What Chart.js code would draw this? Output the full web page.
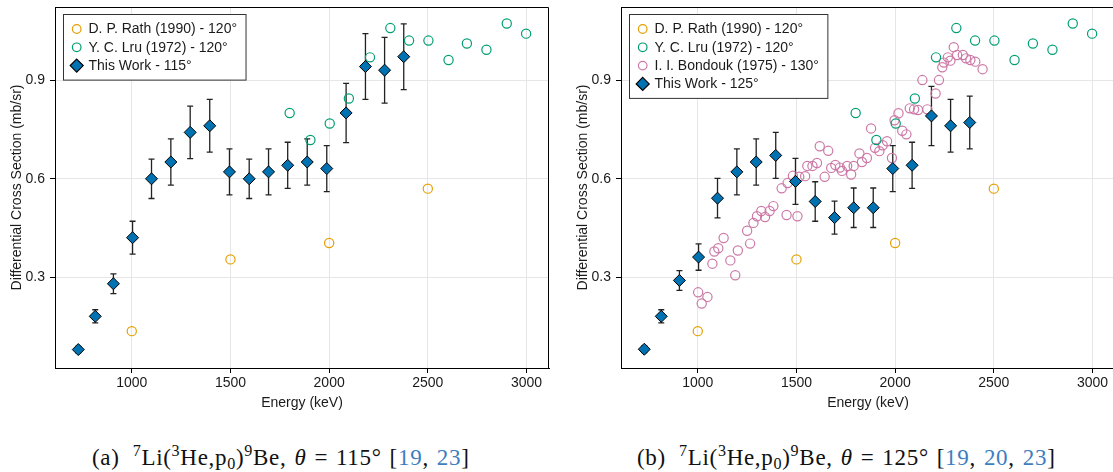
<!DOCTYPE html>
<html>
<head>
<meta charset="utf-8">
<script src="https://cdn.jsdelivr.net/npm/chart.js@4.4.1/dist/chart.umd.min.js"></script>
<style>
  html, body { margin: 0; padding: 0; background: #fff; overflow: hidden; }
  #wrap { position: relative; width: 1113px; height: 472px; overflow: hidden; }
  .plot { position: absolute; top: 0; width: 556px; height: 412px; }
  #plotA { left: 0; }
  #plotB { left: 566px; }
  .cap {
    position: absolute; top: 445px; white-space: nowrap;
    font-family: "Liberation Serif", "Times New Roman", serif;
    font-size: 23px; line-height: 26px; color: #111;
    word-spacing: 1.5px; letter-spacing: 0.7px;
  }
  .cap sup, .cap sub { font-size: 70%; line-height: 0; position: relative; vertical-align: baseline; }
  .cap sup { top: -0.55em; }
  .cap sub { top: 0.25em; }
  .cap .tag { margin-right: 13px; }
  .cap .ref { color: #3d7ebf; }
</style>
</head>
<body>
<div id="wrap">
  <div class="plot" id="plotA"><canvas id="chartA"></canvas></div>
  <div class="plot" id="plotB"><canvas id="chartB"></canvas></div>
  <div class="cap" style="left:92px"><span class="tag">(a)</span><sup>7</sup>Li(<sup>3</sup>He,p<sub>0</sub>)<sup>9</sup>Be, <i>θ</i> = 115° [<span class="ref">19</span>, <span class="ref">23</span>]</div>
  <div class="cap" style="left:637px"><span class="tag">(b)</span><sup>7</sup>Li(<sup>3</sup>He,p<sub>0</sub>)<sup>9</sup>Be, <i>θ</i> = 125° [<span class="ref">19</span>, <span class="ref">20</span>, <span class="ref">23</span>]</div>
</div>
<script>
// ---- data (energy in keV, cross section in mb/sr) ----
const xTicks = [1000, 1500, 2000, 2500, 3000];
const yTicks = [0.3, 0.6, 0.9];

const rathEnergy = [1000, 1500, 2000, 2500];
const rathXs = [0.137, 0.355, 0.405, 0.570];

const lruEnergy = [1800, 1905, 2003, 2100, 2207, 2310, 2405, 2503, 2605, 2698, 2797, 2900, 2998];
const lruXs = [0.800, 0.718, 0.768, 0.844, 0.969, 1.058, 1.020, 1.020, 0.961, 1.011, 0.992, 1.072, 1.041];

const bondoukEnergy = [1002, 1020, 1049, 1074, 1084, 1104, 1131, 1165, 1190, 1203, 1250, 1265, 1282, 1300,
  1322, 1341, 1364, 1383, 1425, 1450, 1455, 1482, 1505, 1514, 1544, 1555, 1581, 1604, 1618, 1643, 1661,
  1676, 1697, 1720, 1731, 1757, 1777, 1790, 1819, 1832, 1857, 1878, 1898, 1920, 1937, 1959, 1984, 1997,
  2017, 2036, 2057, 2074, 2096, 2116, 2138, 2163, 2205, 2222, 2239, 2247, 2267, 2280, 2297, 2314, 2343,
  2359, 2381, 2406, 2443];
const bondoukXs = [0.255, 0.221, 0.241, 0.342, 0.379, 0.389, 0.420, 0.352, 0.307, 0.382, 0.442, 0.403, 0.466, 0.486,
  0.502, 0.484, 0.502, 0.517, 0.571, 0.490, 0.587, 0.609, 0.486, 0.606, 0.608, 0.639, 0.639, 0.648, 0.699, 0.606, 0.685,
  0.633, 0.642, 0.634, 0.624, 0.639, 0.613, 0.639, 0.677, 0.651, 0.663, 0.753, 0.694, 0.684, 0.702, 0.714, 0.663, 0.778,
  0.799, 0.746, 0.735, 0.814, 0.811, 0.809, 0.900, 0.811, 0.859, 0.900, 0.939, 0.953, 0.969, 0.959, 1.000, 0.976, 0.976,
  0.966, 0.961, 0.956, 0.933];

const workEnergy = [729, 815, 907, 1004, 1100, 1198, 1296, 1395, 1495, 1595, 1693, 1790, 1889, 1988, 2086, 2184, 2281, 2378];
const work115 = [0.081, 0.182, 0.281, 0.421, 0.600, 0.651, 0.741, 0.761, 0.621, 0.600, 0.621, 0.641, 0.651, 0.631, 0.800, 0.941, 0.930, 0.971];
const err115 = [0.01, 0.02, 0.03, 0.05, 0.06, 0.07, 0.08, 0.08, 0.07, 0.06, 0.07, 0.07, 0.07, 0.07, 0.09, 0.10, 0.10, 0.10];
const work125 = [0.082, 0.182, 0.291, 0.362, 0.541, 0.621, 0.651, 0.671, 0.592, 0.531, 0.482, 0.512, 0.512, 0.631, 0.641, 0.791, 0.761, 0.771];
const err125 = [0.01, 0.02, 0.03, 0.04, 0.06, 0.07, 0.07, 0.07, 0.07, 0.06, 0.05, 0.06, 0.06, 0.07, 0.07, 0.09, 0.08, 0.08];

const ORANGE = '#e69f00', GREEN = '#009e73', PINK = '#cc79a7', BLUE = '#0072b2';
const FONT = '"Liberation Sans", Arial, sans-serif';

Chart.defaults.font.family = FONT;
Chart.defaults.font.size = 14;
Chart.defaults.color = '#1a1a1a';

const pts = (xs, ys) => xs.map((x, i) => ({ x, y: ys[i] }));

const openCircles = (label, xs, ys, color) => ({
  label, data: pts(xs, ys), order: 1,
  pointStyle: 'circle', pointRadius: 4.6, borderWidth: 1.2,
  borderColor: color, backgroundColor: 'rgba(0,0,0,0)'
});

const diamonds = (label, ys, errs) => ({
  label, data: pts(workEnergy, ys), errors: errs, order: 0,
  pointStyle: 'rectRot', pointRadius: 6, borderWidth: 1,
  borderColor: '#000', backgroundColor: BLUE
});

// vertical error bars, drawn under the markers
const errorBars = {
  id: 'errorBars',
  beforeDatasetsDraw(chart) {
    const { ctx, scales: { x, y } } = chart;
    ctx.save();
    ctx.strokeStyle = '#222';
    ctx.lineWidth = 1.3;
    chart.data.datasets.forEach(d => {
      if (!d.errors) return;
      d.data.forEach((p, i) => {
        const px = x.getPixelForValue(p.x);
        const top = y.getPixelForValue(p.y + d.errors[i]);
        const bot = y.getPixelForValue(p.y - d.errors[i]);
        ctx.beginPath();
        ctx.moveTo(px, top); ctx.lineTo(px, bot);
        ctx.moveTo(px - 3, top); ctx.lineTo(px + 3, top);
        ctx.moveTo(px - 3, bot); ctx.lineTo(px + 3, bot);
        ctx.stroke();
      });
    });
    ctx.restore();
  }
};

// top/right frame lines + boxed legend inside the plot
const frameAndLegend = {
  id: 'frameAndLegend',
  afterDraw(chart) {
    const { ctx, chartArea: a } = chart;
    ctx.save();
    ctx.strokeStyle = '#000';
    ctx.lineWidth = 1;
    ctx.beginPath();
    ctx.moveTo(a.left, a.top + 0.5);
    ctx.lineTo(a.right - 0.5, a.top + 0.5);
    ctx.lineTo(a.right - 0.5, a.bottom);
    ctx.stroke();

    const items = chart.data.datasets;
    ctx.font = '14px ' + FONT;
    const tw = Math.max(...items.map(d => ctx.measureText(d.label).width));
    const bx = a.left + 8, by = a.top + 7;
    const bw = 25.5 + tw + 8.5;
    const bh = 15 + (items.length - 1) * 18.3 + 14;
    ctx.fillStyle = '#fff';
    ctx.fillRect(bx, by, bw, bh);
    ctx.strokeStyle = '#333';
    ctx.strokeRect(bx + 0.5, by + 0.5, bw, bh);

    items.forEach((d, i) => {
      const cy = by + 15 + i * 18.3;
      const cx = bx + 13.7;
      ctx.beginPath();
      if (d.pointStyle === 'rectRot') {
        const r = 6.5;
        ctx.moveTo(cx, cy - r); ctx.lineTo(cx + r, cy);
        ctx.lineTo(cx, cy + r); ctx.lineTo(cx - r, cy);
        ctx.closePath();
        ctx.fillStyle = d.backgroundColor;
        ctx.fill();
      } else {
        ctx.arc(cx, cy, 4.3, 0, Math.PI * 2);
      }
      ctx.strokeStyle = d.borderColor;
      ctx.lineWidth = 1.2;
      ctx.stroke();
      ctx.fillStyle = '#1a1a1a';
      ctx.textBaseline = 'middle';
      ctx.textAlign = 'left';
      ctx.fillText(d.label, bx + 25.5, cy + 0.5);
    });
    ctx.restore();
  }
};

const makeChart = (id, datasets) => new Chart(document.getElementById(id), {
  type: 'scatter',
  data: { datasets },
  options: {
    responsive: true,
    maintainAspectRatio: false,
    animation: false,
    layout: { padding: { top: 7, right: 4, left: 0, bottom: 0 } },
    plugins: { legend: { display: false }, tooltip: { enabled: false } },
    scales: {
      x: {
        type: 'linear', min: 611, max: 3114,
        afterBuildTicks: s => { s.ticks = xTicks.map(v => ({ value: v })); },
        afterFit: s => { s.height = 44; s.paddingLeft = 0; s.paddingRight = 0; },
        ticks: { padding: 2, maxRotation: 0, callback: v => String(v) },
        grid: { color: '#e6e6e6', tickColor: '#000', tickLength: 5 },
        border: { color: '#000', width: 1 },
        title: { display: true, text: 'Energy (keV)', padding: { top: 0, bottom: 0 } }
      },
      y: {
        min: 0.025, max: 1.122,
        afterBuildTicks: s => { s.ticks = yTicks.map(v => ({ value: v })); },
        afterFit: s => { s.width = 55; s.paddingTop = 0; s.paddingBottom = 0; },
        ticks: { padding: 5, callback: v => v.toFixed(1) },
        grid: { color: '#e6e6e6', tickColor: '#000', tickLength: 5 },
        border: { color: '#000', width: 1 },
        title: { display: true, text: 'Differential Cross Section (mb/sr)', padding: { top: 9, bottom: 0 } }
      }
    }
  },
  plugins: [errorBars, frameAndLegend]
});

makeChart('chartA', [
  openCircles('D. P. Rath (1990) - 120°', rathEnergy, rathXs, ORANGE),
  openCircles('Y. C. Lru (1972) - 120°', lruEnergy, lruXs, GREEN),
  diamonds('This Work - 115°', work115, err115)
]);

makeChart('chartB', [
  openCircles('D. P. Rath (1990) - 120°', rathEnergy, rathXs, ORANGE),
  openCircles('Y. C. Lru (1972) - 120°', lruEnergy, lruXs, GREEN),
  openCircles('I. I. Bondouk (1975) - 130°', bondoukEnergy, bondoukXs, PINK),
  diamonds('This Work - 125°', work125, err125)
]);
</script>
</body>
</html>
